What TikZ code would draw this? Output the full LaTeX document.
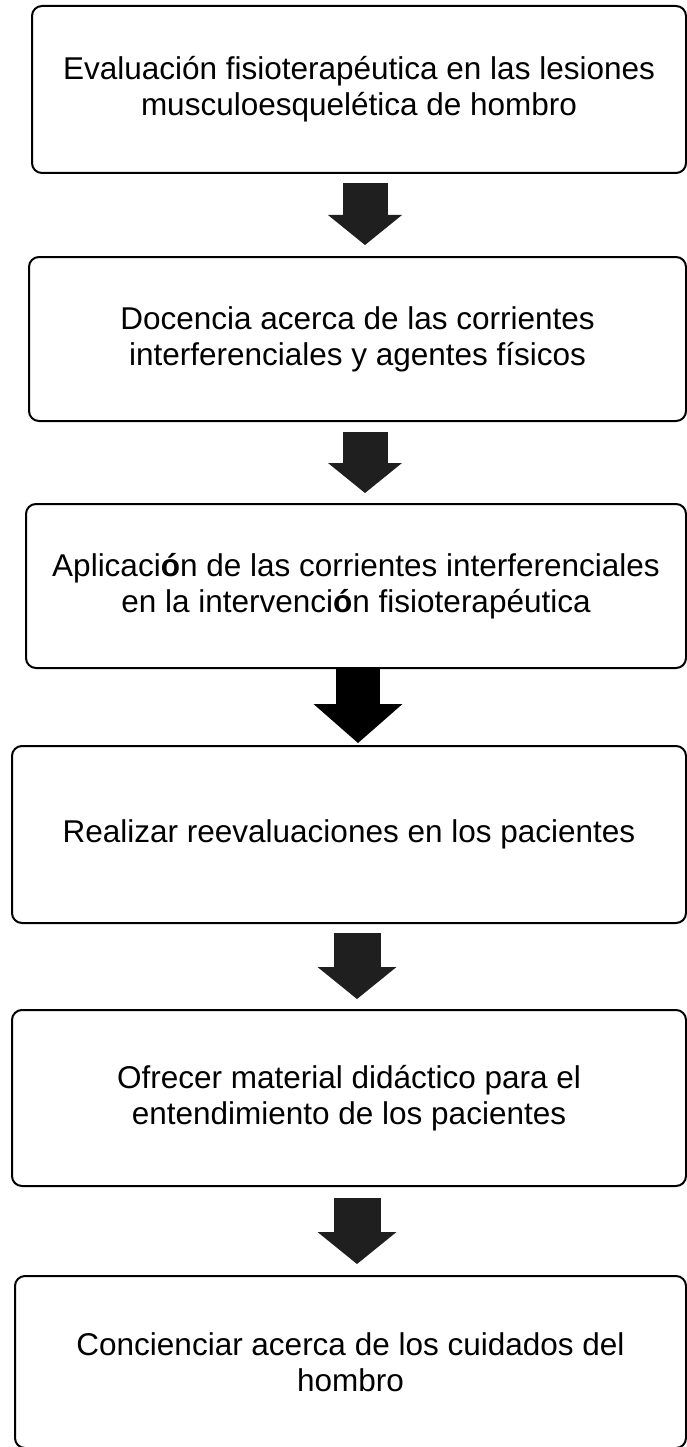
\documentclass[tikz,border=0pt]{standalone}
\usepackage{fontspec}
\setmainfont{Liberation Sans}
\usepackage{tikz}
\usetikzlibrary{arrows.meta, calc}

\definecolor{gris}{HTML}{1F1F1F}

\begin{document}
\begin{tikzpicture}[x=1pt, y=-1pt,
    caja/.style={draw, line width=2pt, rounded corners=10pt, align=center, inner sep=0pt,
      font=\fontsize{31.5}{36}\selectfont},
    flecha/.style={draw=gris, line width=45pt, -{Triangle[width=74pt, length=30pt, line width=0pt 0]}}]
    \path[fill=white, use as bounding box] (0,0) rectangle (687,1447);

    \node (eval) [caja, minimum width=654pt, minimum height=167pt] at (359,89.5)
      {Evaluación fisioterapéutica en las lesiones\\ musculoesquelética de hombro};
    \node (doc) [caja, minimum width=657pt, minimum height=164pt] at (357.5,339)
      {Docencia acerca de las corrientes\\ interferenciales y agentes físicos};
    \node (apl) [caja, minimum width=660pt, minimum height=164pt] at (356,586)
      {Aplicaci\textbf{ó}n de las corrientes interferenciales\\ en la intervenci\textbf{ó}n fisioterapéutica};
    \node (rea) [caja, minimum width=674pt, minimum height=177pt] at (349,834.5)
      {Realizar reevaluaciones en los pacientes};
    \node (ofr) [caja, minimum width=674pt, minimum height=176pt] at (349,1098)
      {Ofrecer material didáctico para el\\ entendimiento de los pacientes};
    \node (con) [caja, minimum width=671pt, minimum height=172pt] at (350.5,1362)
      {Concienciar acerca de los cuidados del\\ hombro};

    % columnas de las flechas
    \coordinate (x1) at (365,0);
    \coordinate (x2) at (358,0);
    \coordinate (x3) at (357,0);

    \draw[flecha, shorten <=9pt, shorten >=11pt] (eval.south -| x1) -- (doc.north -| x1);
    \draw[flecha, shorten <=10pt, shorten >=10pt] (doc.south -| x1) -- (apl.north -| x1);
    \draw[flecha, draw=black, line width=44pt, -{Triangle[width=89pt, length=39pt, line width=0pt 0]},
      shorten <=0pt, shorten >=2pt] (apl.south -| x2) -- (rea.north -| x2);
    \draw[flecha, line width=47pt, -{Triangle[width=79pt, length=32pt, line width=0pt 0]},
      shorten <=9pt, shorten >=10pt] (rea.south -| x3) -- (ofr.north -| x3);
    \draw[flecha, line width=47pt, -{Triangle[width=79pt, length=32pt, line width=0pt 0]},
      shorten <=11pt, shorten >=11pt] (ofr.south -| x3) -- (con.north -| x3);
\end{tikzpicture}
\end{document}
